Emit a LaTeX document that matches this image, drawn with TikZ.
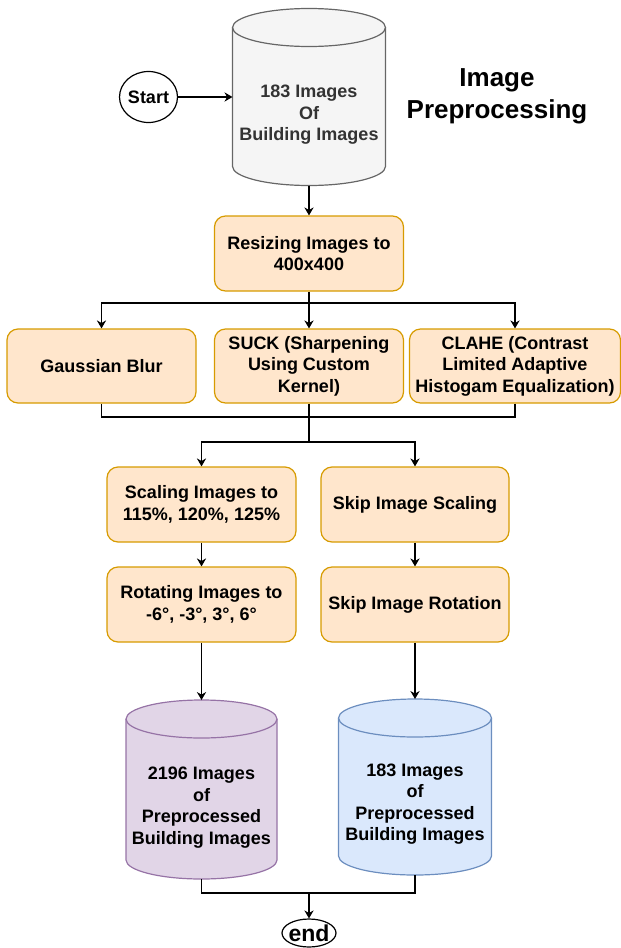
\documentclass[tikz,border=0pt]{standalone}
\usepackage{fontspec}
\setmainfont{Liberation Sans}
\usetikzlibrary{shapes.geometric,arrows.meta,backgrounds}
\definecolor{boxfill}{HTML}{FFE6CC}
\definecolor{boxdraw}{HTML}{D79B00}
\definecolor{srcfill}{HTML}{F5F5F5}
\definecolor{srcdraw}{HTML}{666666}
\definecolor{srctext}{HTML}{333333}
\definecolor{purfill}{HTML}{E1D5E7}
\definecolor{purdraw}{HTML}{9673A6}
\definecolor{blufill}{HTML}{DAE8FC}
\definecolor{bludraw}{HTML}{6C8EBF}
% cylinder outline round a named box: node, x radius, draw, fill
\newcommand{\drum}[4]{%
	\filldraw[draw=#3,fill=#4,line width=1.2pt] ([yshift=-19pt]#1.north west) -- ([yshift=19pt]#1.south west)
		arc[start angle=180,end angle=360,x radius=#2pt,y radius=19pt] -- ([yshift=-19pt]#1.north east)
		arc[start angle=0,end angle=180,x radius=#2pt,y radius=19pt] -- cycle;
	\draw[draw=#3,line width=1.2pt] ([yshift=-19pt]#1.north west) arc[start angle=180,end angle=360,x radius=#2pt,y radius=19pt];
}

\begin{document}
\begin{tikzpicture}[x=1pt,y=-1pt,
	txt/.style={font=\bfseries\fontsize{18}{21.5}\selectfont,align=center},
	procbox/.style={txt,draw=boxdraw,fill=boxfill,line width=1.2pt,rounded corners=11pt,minimum width=189pt,minimum height=75pt,inner sep=2pt},
	db/.style={rectangle,inner sep=0pt,outer sep=0pt,minimum width=153pt,minimum height=177pt},
	term/.style={txt,ellipse,draw,line width=1.2pt,inner sep=0pt},
	flow/.style={line width=1.1pt,-{Stealth[length=8pt, angle'=60]}},
	link/.style={line width=1.1pt}]
	\useasboundingbox (0,0) rectangle (621,948);
	% input
	\node[term,minimum width=57pt,minimum height=51pt] (start) at (148.5,97) {Start};
	\node[db,label={[txt,text=srctext,yshift=-18pt]center:183 Images\\Of\\Building Images}] (src) at (309,97) {};
	\node[font=\bfseries\fontsize{26}{32}\selectfont,align=center] (title) at (497,96) {Image\\Preprocessing};
	% filters
	\node[procbox] (resize) at (309,253.5) {Resizing Images to\\400x400};
	\node[procbox,minimum height=74pt] (blur) at (101.5,366) {Gaussian Blur};
	\node[procbox,minimum height=74pt] (suck) at (309,366) {SUCK (Sharpening\\Using Custom\\Kernel)};
	\node[procbox,minimum width=211pt,minimum height=74pt] (clahe) at (515,366) {CLAHE (Contrast\\Limited Adaptive\\Histogam Equalization)};
	% augmentation
	\node[procbox] (scale) at (201.5,504.5) {Scaling Images to\\115\%, 120\%, 125\%};
	\node[procbox,minimum width=188pt] (skipscale) at (415,504.5) {Skip Image Scaling};
	\node[procbox] (rotate) at (201.5,604.5) {Rotating Images to\\-6°, -3°, 3°, 6°};
	\node[procbox,minimum width=188pt] (skiprot) at (415,604.5) {Skip Image Rotation};
	% output
	\node[db,minimum width=151pt,minimum height=179pt,label={[txt,yshift=-18pt]center:2196 Images\\of\\Preprocessed\\Building Images}] (outa) at (201.5,789.5) {};
	\node[db,minimum height=176pt,label={[txt,yshift=-17pt]center:183 Images\\of\\Preprocessed\\Building Images}] (outb) at (415,787) {};
	\node[term,font=\bfseries\fontsize{23}{23}\selectfont,minimum width=54pt,minimum height=28pt] (end) at (309,933) {\raisebox{-0.36em}[0pt][0pt]{\makebox[0pt]{end}}};
	\begin{scope}[on background layer]
		\drum{src}{76.5}{srcdraw}{srcfill}
		\drum{outa}{75.5}{purdraw}{purfill}
		\drum{outb}{76.5}{bludraw}{blufill}
	\end{scope}
	% connectors
	\draw[flow] (start) -- (src);
	\draw[flow] (src) -- (resize);
	\coordinate (split) at (309,303);
	\draw[link] (resize) -- (split);
	\foreach \n in {blur,suck,clahe} \draw[flow] (split) -| (\n);
	\coordinate (merge) at (309,417);
	\foreach \n in {blur,suck,clahe} \draw[link] (\n) |- (merge);
	\coordinate (split2) at (309,442);
	\draw[link] (merge) -- (split2);
	\foreach \n in {scale,skipscale} \draw[flow] (split2) -| (\n);
	\draw[flow] (scale) -- (rotate);
	\draw[flow] (skipscale) -- (skiprot);
	\draw[flow] (rotate) -- (outa);
	\draw[flow] (skiprot) -- (outb);
	\coordinate (merge2) at (309,893);
	\foreach \n in {outa,outb} \draw[link] (\n) |- (merge2);
	\draw[flow] (merge2) -- (end);
\end{tikzpicture}
\end{document}
